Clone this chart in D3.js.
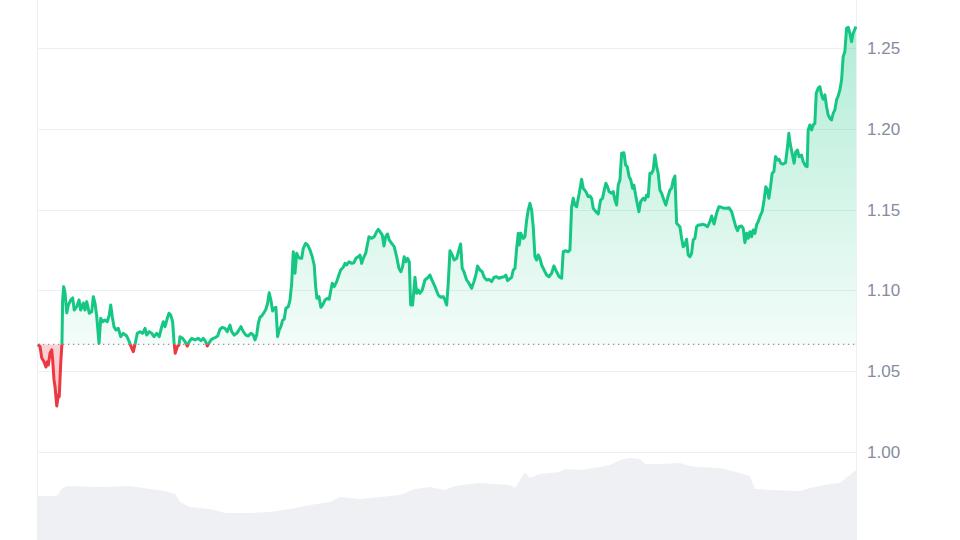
<!DOCTYPE html>
<html>
<head>
<meta charset="utf-8">
<script src="https://cdn.jsdelivr.net/npm/d3@7"></script>
<style>
  body { margin: 0; background: #fff; }
  svg { display: block; }
  .tick-label { font-family: "Liberation Sans", Arial, sans-serif; font-size: 17px; fill: #858ca2; }
</style>
</head>
<body>
<svg id="chart" width="960" height="540"></svg>
<script>
// hours since the start of the 30 day window
var priceHours = [
  0,1.8,3.3,5.3,7.0,8.2,9.1,10.6,12.1,12.9,14.1,15.0,16.5,17.9,18.7,20.0,21.1,21.7,22.6,23.8,
  25.3,26.7,28.8,30.5,31.9,34.1,36.1,37.6,39.9,41.4,42.9,45.1,47.3,48.7,50.2,51.7,53.7,55.2,56.9,59.0,
  61.0,62.7,64.0,65.4,66.9,68.6,70.7,72.8,75.1,78.1,80.3,82.5,83.9,85.6,87.4,89.8,92.1,94.2,95.7,97.9,
  100.1,102.1,104.5,106.7,108.9,110.3,111.8,113.8,115.3,116.8,118.5,119.7,120.8,122.6,124.1,125.0,127.3,129.4,131.4,133.1,
  135.3,138.2,
  141.1,143.4,145.5,147.6,149.0,150.5,152.2,154.3,156.4,158.1,160.2,162.2,164.6,166.6,169.0,170.5,172.7,174.9,176.9,178.6,
  180.7,183.0,185.1,187.4,189.5,191.0,192.5,193.9,195.4,196.9,198.9,200.6,202.1,203.5,205.0,206.5,207.9,209.4,210.9,212.3,
  213.8,215.3,216.7,218.2,220.3,221.8,223.3,224.7,226.2,227.7,229.1,230.6,232.1,233.5,235.6,237.3,239.4,241.4,243.1,244.4,
  245.5,247.3,249.0,250.5,252.6,254.9,256.3,257.8,259.0,260.7,262.9,264.3,266.4,268.7,270.2,271.7,273.7,276.1,278.1,279.8,
  281.9,283.4,284.9,286.3,288.4,
  291.3,293.7,296.0,298.1,299.5,301.0,303.0,304.5,306.0,307.7,309.1,311.3,313.5,315.7,317.7,319.4,320.9,322.3,323.8,325.3,
  326.8,328.0,329.7,331.8,333.3,334.7,336.2,338.2,340.6,343.5,345.0,346.5,349.4,352.3,354.6,356.7,358.2,359.7,361.1,362.6,
  364.6,366.3,368.5,370.5,372.0,373.4,374.9,377.3,379.3,381.7,383.7,385.4,386.9,389.0,391.0,392.7,394.9,396.9,399.3,401.5,
  403.7,405.7,408.1,410.3,411.8,413.3,414.7,416.9,418.3,419.8,421.3,422.7,423.5,425.0,427.1,428.6,430.1,431.5,433.0,434.5,
  435.9,437.4,438.9,440.3,
  441.8,443.3,446.2,447.7,449.7,452.1,454.1,456.5,458.7,460.9,462.3,464.6,466.7,468.2,469.7,471.1,472.6,474.1,476.4,478.5,
  479.9,482.2,484.3,485.8,487.3,488.7,491.0,493.1,495.2,496.9,498.1,499.8,501.3,502.7,504.9,506.3,507.8,509.3,510.7,512.2,
  513.7,515.7,517.2,518.6,520.3,521.8,523.3,524.5,526.0,527.4,528.9,530.4,532.7,534.2,535.7,537.1,538.6,540.1,541.5,543.0,
  544.5,545.9,547.4,548.9,550.9,552.6,554.1,556.2,557.7,559.1,560.6,562.1,563.5,565.0,566.5,567.9,569.4,570.9,572.3,573.8,
  575.3,576.7,578.2,579.7,581.1,582.6,585.5,
  587.0,589.3,591.4,592.9,595.1,597.3,599.3,601.7,604.0,606.1,608.1,610.5,612.5,614.2,615.7,617.1,619.3,620.7,622.2,623.7,
  625.1,626.6,628.1,629.5,631.0,632.5,633.9,635.4,637.4,639.1,640.6,642.1,643.3,644.8,646.2,647.7,649.2,650.9,652.3,653.8,
  655.9,658.0,659.7,660.9,662.0,663.8,665.5,667.0,668.5,669.9,672.1,673.5,675.6,677.0,677.9,679.4,680.9,682.3,683.8,685.0,
  686.7,688.2,689.7,691.1,692.6,694.1,695.5,697.0,698.5,699.9,701.4,702.9,704.3,705.8,707.3,708.7,710.2,711.7,713.1,714.6,
  716.1,717.5,720
];

var prices = [
  1.0667,1.0652,1.0582,1.0559,1.0526,1.0559,1.0539,1.0613,1.0632,1.0570,1.0446,1.0404,1.0285,1.0353,1.0342,1.0551,1.0673,1.0941,1.1024,1.0985,
  1.0861,1.0910,1.0941,1.0954,1.0879,1.0900,1.0941,1.0879,1.0923,1.0879,1.0931,1.0859,1.0869,1.0962,1.0921,1.0838,1.0673,1.0828,1.0807,1.0817,
  1.0807,1.0848,1.0910,1.0838,1.0776,1.0755,1.0766,1.0714,1.0735,1.0718,1.0683,1.0642,1.0621,1.0673,1.0735,1.0745,1.0735,1.0766,1.0724,1.0745,
  1.0735,1.0714,1.0735,1.0714,1.0776,1.0807,1.0776,1.0828,1.0859,1.0848,1.0807,1.0683,1.0611,1.0652,1.0663,1.0714,1.0704,1.0683,1.0656,1.0683,
  1.0704,1.0694,
  1.0704,1.0689,1.0704,1.0683,1.0656,1.0673,1.0694,1.0704,1.0710,1.0718,1.0760,1.0772,1.0766,1.0745,1.0786,1.0745,1.0724,1.0735,1.0755,1.0776,
  1.0745,1.0724,1.0718,1.0735,1.0724,1.0694,1.0724,1.0797,1.0834,1.0842,1.0863,1.0884,1.0921,1.0986,1.0941,1.0873,1.0890,1.0896,1.0714,1.0755,
  1.0776,1.0817,1.0822,1.0890,1.0900,1.0941,1.1045,1.1240,1.1107,1.1230,1.1209,1.1199,1.1199,1.1261,1.1292,1.1282,1.1251,1.1209,1.1158,1.1024,
  1.0952,1.0962,1.0896,1.0910,1.0941,1.0952,1.0946,1.1003,1.1045,1.1024,1.1055,1.1085,1.1127,1.1144,1.1168,1.1158,1.1178,1.1168,1.1172,1.1199,
  1.1209,1.1220,1.1168,1.1199,1.1230,
  1.1333,1.1323,1.1333,1.1364,1.1379,1.1364,1.1344,1.1276,1.1333,1.1350,1.1313,1.1292,1.1271,1.1209,1.1137,1.1116,1.1147,1.1209,1.1178,1.1199,
  1.1178,1.0910,1.0910,1.1082,1.0983,1.1003,1.0983,1.1003,1.1065,1.1082,1.1096,1.1069,1.1024,1.0972,1.0958,1.0962,1.0941,1.0910,1.1045,1.1246,
  1.1220,1.1189,1.1199,1.1251,1.1288,1.1137,1.1116,1.1065,1.1045,1.1014,1.1055,1.1096,1.1152,1.1127,1.1116,1.1082,1.1065,1.1069,1.1055,1.1082,
  1.1085,1.1076,1.1082,1.1085,1.1096,1.1061,1.1069,1.1082,1.1127,1.1137,1.1261,1.1354,1.1282,1.1354,1.1323,1.1333,1.1437,1.1498,1.1540,1.1498,
  1.1395,1.1209,1.1189,1.1220,
  1.1199,1.1158,1.1116,1.1096,1.1085,1.1107,1.1152,1.1116,1.1085,1.1076,1.1240,1.1246,1.1240,1.1251,1.1519,1.1571,1.1529,1.1519,1.1602,1.1689,
  1.1633,1.1612,1.1581,1.1585,1.1571,1.1509,1.1488,1.1474,1.1560,1.1571,1.1612,1.1664,1.1643,1.1612,1.1602,1.1612,1.1560,1.1529,1.1653,1.1684,
  1.1850,1.1853,1.1777,1.1767,1.1705,1.1684,1.1633,1.1653,1.1591,1.1540,1.1488,1.1550,1.1571,1.1560,1.1591,1.1581,1.1726,1.1726,1.1746,1.1839,
  1.1767,1.1726,1.1622,1.1602,1.1560,1.1529,1.1571,1.1622,1.1633,1.1684,1.1709,1.1416,1.1406,1.1395,1.1323,1.1271,1.1282,1.1317,1.1220,1.1209,
  1.1230,1.1313,1.1323,1.1395,1.1406,1.1406,1.1410,
  1.1406,1.1395,1.1426,1.1461,1.1412,1.1478,1.1519,1.1515,1.1509,1.1509,1.1513,1.1488,1.1437,1.1395,1.1370,1.1395,1.1399,1.1385,1.1296,1.1354,
  1.1323,1.1364,1.1333,1.1375,1.1354,1.1406,1.1426,1.1457,1.1488,1.1560,1.1643,1.1622,1.1571,1.1643,1.1726,1.1736,1.1829,1.1808,1.1812,1.1788,
  1.1783,1.1791,1.1890,1.1973,1.1911,1.1850,1.1788,1.1859,1.1870,1.1829,1.1839,1.1798,1.1771,1.1767,1.1994,1.2025,1.1994,1.2025,1.2035,1.2221,
  1.2252,1.2262,1.2211,1.2184,1.2211,1.2138,1.2087,1.2066,1.2056,1.2097,1.2118,1.2180,1.2204,1.2242,1.2303,1.2448,1.2479,1.2624,1.2630,1.2593,
  1.2541,1.2593,1.2634
];

// trading volume, in millions (relative)
var volumeHours = [
  0,15.0,17.6,21.1,26.4,54.6,81.0,98.6,111.8,120.6,125.0,133.8,151.4,164.6,186.6,204.2,221.8,239.4,257.0,265.8,
  283.4,301.0,318.6,331.8,345.0,358.2,367.0,380.2,389.0,415.4,419.8,424.2,428.6,433.0,441.8,459.4,463.8,477.0,494.6,503.4,
  512.2,521.0,529.8,534.2,547.4,565.0,573.8,582.6,600.2,617.8,626.6,631.0,644.2,670.6,679.4,697.0,705.8,714.6,719.0,720
];
var volumes = [
  44,44,45,52,54,53,54,51,49,46,38,33,31,27,27,28,31,35,38,43,
  41,43,45,51,53,50,54,56,57,55,52,60,68,62,66,68,71,70,73,75,
  80,82,81,76,76,77,74,73,72,67,64,51,50,49,52,56,57,65,69,69
];

var priceTicks = [1.00, 1.05, 1.10, 1.15, 1.20, 1.25];

if (priceHours.length !== prices.length) console.error("price arrays differ", priceHours.length, prices.length);
if (volumeHours.length !== volumes.length) console.error("volume arrays differ");

var width = 960, height = 540;
var left = 38, right = 856;
var green = "#16c784", red = "#ea3943";

var svg = d3.select("#chart");

var x = d3.scaleLinear().domain([0, 720]).range([left, right]);
var y = d3.scaleLinear().domain([1.00, 1.25]).range([452, 48.25]);
var yVol = d3.scaleLinear().domain([0, 100]).range([540, 440]);

var points = prices.map(function(p, i) { return {t: priceHours[i], p: p}; });
var volPoints = volumes.map(function(v, i) { return {t: volumeHours[i], v: v}; });

var base = prices[0];
var baseY = y(base);

// defs: clips + gradients
var defs = svg.append("defs");
defs.append("clipPath").attr("id", "clip-up")
  .append("rect").attr("x", 0).attr("y", 0).attr("width", width).attr("height", baseY);
defs.append("clipPath").attr("id", "clip-down")
  .append("rect").attr("x", 0).attr("y", baseY).attr("width", width).attr("height", height - baseY);

var gUp = defs.append("linearGradient").attr("id", "grad-up")
  .attr("gradientUnits", "userSpaceOnUse")
  .attr("x1", 0).attr("x2", 0)
  .attr("y1", y(d3.max(prices))).attr("y2", baseY);
gUp.append("stop").attr("offset", "0%").attr("stop-color", green).attr("stop-opacity", 0.33);
gUp.append("stop").attr("offset", "100%").attr("stop-color", green).attr("stop-opacity", 0.05);

var gDown = defs.append("linearGradient").attr("id", "grad-down")
  .attr("gradientUnits", "userSpaceOnUse")
  .attr("x1", 0).attr("x2", 0)
  .attr("y1", baseY).attr("y2", y(d3.min(prices)));
gDown.append("stop").attr("offset", "0%").attr("stop-color", red).attr("stop-opacity", 0.22);
gDown.append("stop").attr("offset", "100%").attr("stop-color", red).attr("stop-opacity", 0.32);

// volume
var volArea = d3.area()
  .x(function(d) { return x(d.t); })
  .y0(yVol(0))
  .y1(function(d) { return yVol(d.v); });
svg.append("path")
  .datum(volPoints)
  .attr("d", volArea)
  .attr("fill", "#eef0f4");

// grid
svg.append("g").selectAll("line")
  .data(priceTicks)
  .enter().append("line")
    .attr("x1", left - 1).attr("x2", right)
    .attr("y1", function(d) { return Math.round(y(d)) + 0.5; })
    .attr("y2", function(d) { return Math.round(y(d)) + 0.5; })
    .attr("stroke", "#eceff3")
    .attr("stroke-width", 1);

[left - 0.5, right + 0.5].forEach(function(px) {
  svg.append("line")
    .attr("x1", px).attr("x2", px)
    .attr("y1", 0).attr("y2", height)
    .attr("stroke", "#eceff3")
    .attr("stroke-width", 1);
});

// price areas
var area = d3.area()
  .x(function(d) { return x(d.t); })
  .y0(baseY)
  .y1(function(d) { return y(d.p); });

svg.append("path").datum(points)
  .attr("d", area)
  .attr("fill", "url(#grad-up)")
  .attr("clip-path", "url(#clip-up)");
svg.append("path").datum(points)
  .attr("d", area)
  .attr("fill", "url(#grad-down)")
  .attr("clip-path", "url(#clip-down)");

// dotted opening price line
svg.append("line")
  .attr("x1", left).attr("x2", right)
  .attr("y1", baseY).attr("y2", baseY)
  .attr("stroke", "#8f96a3")
  .attr("stroke-width", 1.3)
  .attr("stroke-dasharray", "1.3,3.7");

// price line
var line = d3.line()
  .x(function(d) { return x(d.t); })
  .y(function(d) { return y(d.p); });

svg.append("path").datum(points)
  .attr("d", line)
  .attr("fill", "none")
  .attr("stroke", green)
  .attr("stroke-width", 3)
  .attr("stroke-linejoin", "round")
  .attr("clip-path", "url(#clip-up)");
svg.append("path").datum(points)
  .attr("d", line)
  .attr("fill", "none")
  .attr("stroke", red)
  .attr("stroke-width", 3)
  .attr("stroke-linejoin", "round")
  .attr("clip-path", "url(#clip-down)");

// y axis labels on the right
var yAxis = d3.axisRight(y)
  .tickValues(priceTicks)
  .tickFormat(d3.format(".2f"))
  .tickSize(0)
  .tickPadding(11);
var axisG = svg.append("g")
  .attr("transform", "translate(" + right + ",0)")
  .call(yAxis);
axisG.select(".domain").remove();
axisG.selectAll("text")
  .attr("class", "tick-label")
  .attr("fill", null)
  .attr("font-size", null)
  .attr("font-family", null);
axisG.attr("font-size", null).attr("font-family", null);
</script>
</body>
</html>
